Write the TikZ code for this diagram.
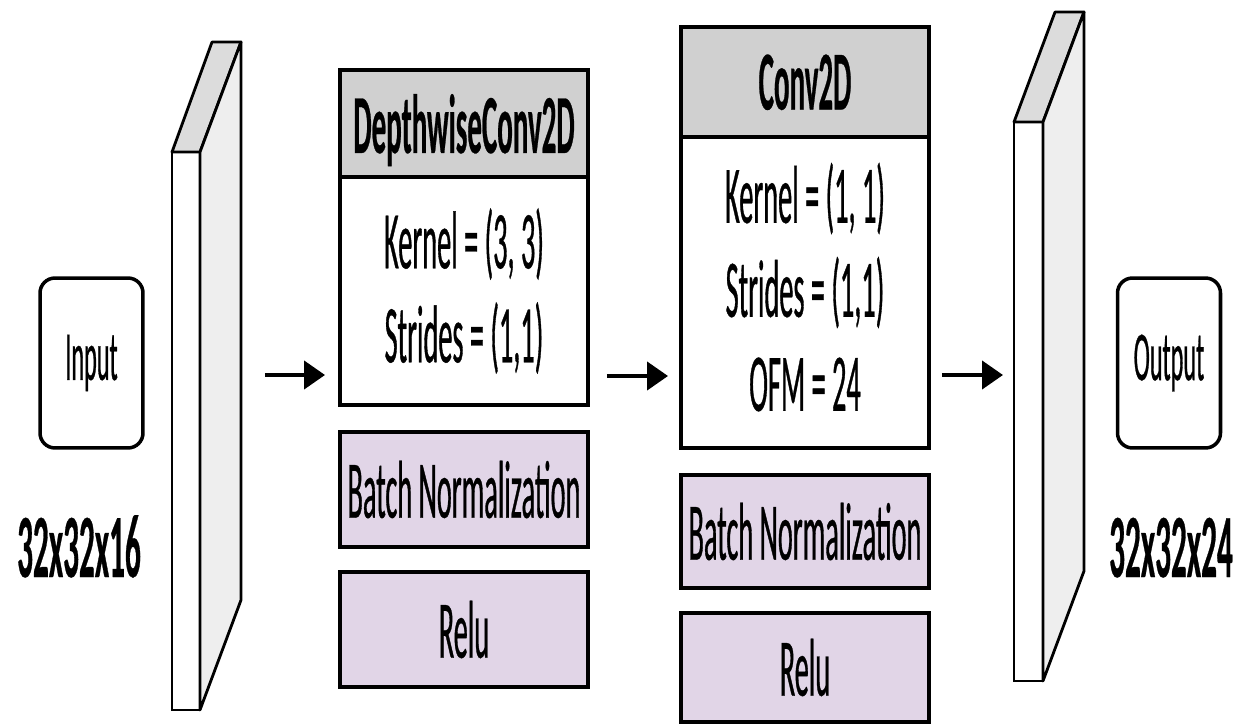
\documentclass[tikz,border=0pt]{standalone}
\usepackage{fontspec}
\setmainfont[FakeStretch=0.345,UprightFeatures={FakeBold=0.4},BoldFeatures={FakeBold=0.3}]{Carlito}
\usetikzlibrary{arrows.meta}
\definecolor{headgray}{RGB}{208,208,208}
\definecolor{bnpurple}{RGB}{225,213,231}
\definecolor{slabtop}{RGB}{220,220,220}
\definecolor{slabside}{RGB}{238,238,238}

\begin{document}
\begin{tikzpicture}[x=0.02cm,y=-0.02cm,
    box/.style={draw,line width=2pt,inner sep=0pt,outer sep=0pt,minimum width=4.96cm,
      align=center,font=\fontsize{46.7}{53.5}\selectfont},
    headbox/.style={box,fill=headgray,text depth=0pt,font=\fontsize{47.8}{53.5}\selectfont\bfseries},
    layerbox/.style={box,fill=bnpurple},
    termbox/.style={draw,line width=2pt,rounded corners=0.3cm,inner sep=0pt,outer sep=0pt,
      minimum width=2.06cm,minimum height=3.4cm,font=\fontsize{40}{45}\selectfont},
    dims/.style={anchor=base,inner sep=0pt,font=\fontsize{51.5}{56}\selectfont\bfseries},
    slabfront/.style={draw,line width=1.6pt,fill=white,inner sep=0pt,outer sep=0pt},
    slabface/.style={line width=1.6pt,line join=round},
    flow/.style={line width=2.4pt,-{Triangle[length=0.42cm,width=0.56cm]}}]
  \useasboundingbox (0,0) rectangle (1244,726);

  % input side
  \node[termbox] (input) at (91.5,363) {Input};
  \node[dims] (indims) at (79,577) {32x32x16};
  \node[slabfront,minimum width=0.56cm,minimum height=11.16cm] (inslab) at (186,431) {};
  \filldraw[slabface,fill=slabtop] (inslab.north west) -- ++(40,-110) -- ++(29,0) -- (inslab.north east) -- cycle;
  \filldraw[slabface,fill=slabside] (inslab.north east) -- ++(41,-110) -- ++(0,558) -- (inslab.south east) -- cycle;

  % depthwise block
  \node[headbox,minimum height=2.14cm] (dwhead) at (464,123.5) {DepthwiseConv2D};
  \node[box,minimum height=4.56cm] (dwbody) at (464,291) {Kernel = (3, 3)\\Strides = (1,1)};
  \node[layerbox,minimum height=2.3cm] (dwnorm) at (464,489.5) {Batch Normalization};
  \node[layerbox,minimum height=2.3cm] (dwrelu) at (464,629.5) {Relu};

  % pointwise block
  \node[headbox,minimum height=2.2cm] (cvhead) at (805,82) {Conv2D};
  \node[box,minimum height=6.22cm] (cvbody) at (805,292.5) {Kernel = (1, 1)\\Strides = (1,1)\\OFM = 24\vphantom{(}};
  \node[layerbox,minimum height=2.26cm] (cvnorm) at (805,531.5) {Batch Normalization};
  \node[layerbox,minimum height=2.18cm] (cvrelu) at (805,667.5) {Relu};

  % output side
  \node[slabfront,minimum width=0.58cm,minimum height=11.18cm] (outslab) at (1028.5,401.5) {};
  \filldraw[slabface,fill=slabtop] (outslab.north west) -- ++(41,-110) -- ++(29,0) -- (outslab.north east) -- cycle;
  \filldraw[slabface,fill=slabside] (outslab.north east) -- ++(41,-110) -- ++(0,559) -- (outslab.south east) -- cycle;
  \node[termbox] (output) at (1169,363) {Output};
  \node[dims] (outdims) at (1171,577) {32x32x24};

  % arrows
  \draw[flow,shorten <=1.3cm,shorten >=0.3cm] (inslab.east |- 0,375) -- (dwbody.west |- 0,375);
  \draw[flow,shorten <=0.38cm,shorten >=0.26cm] (dwbody.east |- 0,376) -- (cvbody.west |- 0,376);
  \draw[flow,shorten <=0.26cm,shorten >=0.22cm] (cvbody.east |- 0,375) -- (outslab.west |- 0,375);
\end{tikzpicture}
\end{document}
